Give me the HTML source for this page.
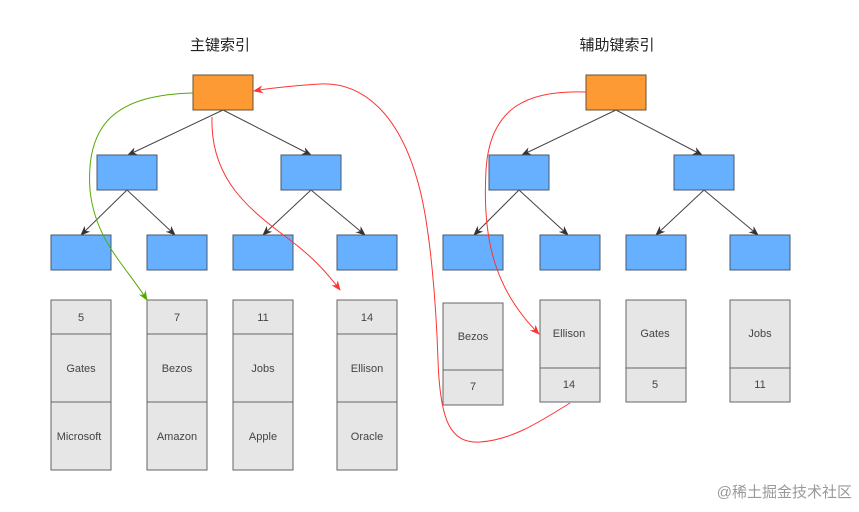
<!DOCTYPE html>
<html><head><meta charset="utf-8"><style>
body{margin:0;background:#fff;width:859px;height:507px;overflow:hidden}
</style></head><body>
<svg width="859" height="507" xmlns="http://www.w3.org/2000/svg" font-family="Liberation Sans, Noto Sans CJK SC, sans-serif">
<defs>
<marker id="ak" markerWidth="10" markerHeight="10" refX="9" refY="5" orient="auto" markerUnits="userSpaceOnUse"><path d="M0,1 L10,5 L0,9 L3,5z" fill="#333"/></marker>
<marker id="ar" markerWidth="10" markerHeight="10" refX="9" refY="5" orient="auto" markerUnits="userSpaceOnUse"><path d="M0,1 L10,5 L0,9 L3,5z" fill="#f33"/></marker>
<marker id="ag" markerWidth="10" markerHeight="10" refX="9" refY="5" orient="auto" markerUnits="userSpaceOnUse"><path d="M0,1 L10,5 L0,9 L3,5z" fill="#5a0"/></marker>
</defs>
<text x="220" y="50" font-size="15" text-anchor="middle" fill="#222">主键索引</text>
<text x="617" y="50" font-size="15" text-anchor="middle" fill="#222">辅助键索引</text>
<g stroke="#444" stroke-width="1" marker-end="url(#ak)">
<line x1="223" y1="110" x2="128" y2="155"/><line x1="223" y1="110" x2="311" y2="155"/>
<line x1="127" y1="190" x2="81" y2="235"/><line x1="127" y1="190" x2="175" y2="235"/>
<line x1="311" y1="190" x2="263" y2="235"/><line x1="311" y1="190" x2="365" y2="235"/>
<line x1="616" y1="110" x2="522" y2="155"/><line x1="616" y1="110" x2="702" y2="155"/>
<line x1="519" y1="190" x2="474" y2="235"/><line x1="519" y1="190" x2="568" y2="235"/>
<line x1="704" y1="190" x2="656" y2="235"/><line x1="704" y1="190" x2="758" y2="235"/>
</g>
<g stroke="#4a5a70" stroke-width="1" fill="#66b0ff">
<rect x="97" y="155" width="60" height="35"/><rect x="281" y="155" width="60" height="35"/>
<rect x="51" y="235" width="60" height="35"/><rect x="147" y="235" width="60" height="35"/><rect x="233" y="235" width="60" height="35"/><rect x="337" y="235" width="60" height="35"/>
<rect x="489" y="155" width="60" height="35"/><rect x="674" y="155" width="60" height="35"/>
<rect x="443" y="235" width="60" height="35"/><rect x="540" y="235" width="60" height="35"/><rect x="626" y="235" width="60" height="35"/><rect x="730" y="235" width="60" height="35"/>
</g>
<g stroke="#6a5030" fill="#fd9a33"><rect x="193" y="75" width="60" height="35"/><rect x="586" y="75" width="60" height="35"/></g>
<g stroke="#666" fill="#e6e6e6">
<rect x="51" y="300" width="60" height="170"/><rect x="147" y="300" width="60" height="170"/><rect x="233" y="300" width="60" height="170"/><rect x="337" y="300" width="60" height="170"/>
<line x1="51" y1="334" x2="111" y2="334"/><line x1="51" y1="402" x2="111" y2="402"/>
<line x1="147" y1="334" x2="207" y2="334"/><line x1="147" y1="402" x2="207" y2="402"/>
<line x1="233" y1="334" x2="293" y2="334"/><line x1="233" y1="402" x2="293" y2="402"/>
<line x1="337" y1="334" x2="397" y2="334"/><line x1="337" y1="402" x2="397" y2="402"/>
<rect x="443" y="303" width="60" height="102"/><rect x="540" y="300" width="60" height="102"/><rect x="626" y="300" width="60" height="102"/><rect x="730" y="300" width="60" height="102"/>
<line x1="443" y1="370" x2="503" y2="370"/><line x1="540" y1="368" x2="600" y2="368"/><line x1="626" y1="368" x2="686" y2="368"/><line x1="730" y1="368" x2="790" y2="368"/>
</g>
<g font-size="11" fill="#444" text-anchor="middle">
<text x="81" y="321">5</text><text x="81" y="372">Gates</text><text x="79" y="440">Microsoft</text>
<text x="177" y="321">7</text><text x="177" y="372">Bezos</text><text x="177" y="440">Amazon</text>
<text x="263" y="321">11</text><text x="263" y="372">Jobs</text><text x="263" y="440">Apple</text>
<text x="367" y="321">14</text><text x="367" y="372">Ellison</text><text x="367" y="440">Oracle</text>
<text x="473" y="340">Bezos</text><text x="473" y="390">7</text>
<text x="569" y="337">Ellison</text><text x="569" y="388">14</text>
<text x="655" y="337">Gates</text><text x="655" y="388">5</text>
<text x="760" y="337">Jobs</text><text x="760" y="388">11</text>
</g>
<g fill="none" stroke-width="1">
<path d="M193,93 C120,95 85,120 90,190 C95,240 125,265 147,300" stroke="#5a0" marker-end="url(#ag)"/>
<path d="M212,117 C210,180 250,210 290,240 C310,255 325,270 340,290" stroke="#f33" marker-end="url(#ar)"/>
<path d="M570,403 C535,425 510,440 480,442 C450,444 440,420 438,360 C436,300 430,230 420,190 C400,110 360,82 320,84 C290,86 270,88 254,91" stroke="#f33" marker-end="url(#ar)"/>
<path d="M586,92 C530,90 490,105 486,170 C482,240 495,290 539,334" stroke="#f33" marker-end="url(#ar)"/>
</g>
<text x="852" y="497" font-size="15" text-anchor="end" fill="#999">@稀土掘金技术社区</text>
</svg>
</body></html>
